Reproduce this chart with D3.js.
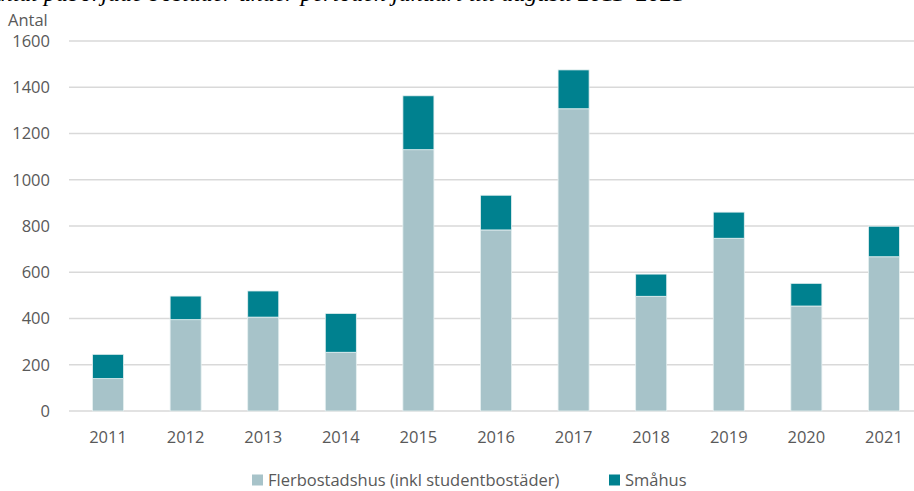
<!DOCTYPE html>
<html>
<head>
<meta charset="utf-8">
<script src="https://cdn.jsdelivr.net/npm/d3@7"></script>
<style>
  body { margin: 0; background: #fff; }
  svg { display: block; }
</style>
</head>
<body>
<div id="vis"></div>
<script>
const years = ["2011", "2012", "2013", "2014", "2015", "2016", "2017", "2018", "2019", "2020", "2021"];
const flerbostadshus = [140, 395, 406, 254, 1130, 783, 1307, 496, 747, 454, 667];
const smahus = [105, 102, 113, 168, 233, 150, 168, 96, 113, 98, 132];
const yTicks = [0, 200, 400, 600, 800, 1000, 1200, 1400, 1600];
const seriesNames = ["Flerbostadshus (inkl studentbostäder)", "Småhus"];
const colors = ["#A7C3C9", "#00818F"];

const WIDTH = 914;
const HEIGHT = 491;

const SVG = d3.select("#vis").append("svg")
    .attr("width", WIDTH).attr("height", HEIGHT);

const font = "'Open Sans', sans-serif";
const fs = 16.5;

// titel, avklippt i överkant
SVG.append("text")
    .attr("x", -14).attr("y", 1)
    .attr("font-family", "'Liberation Serif', serif")
    .attr("font-style", "italic")
    .attr("font-size", 24)
    .attr("fill", "#000")
    .text("Antal påbörjade bostäder under perioden januari till augusti 2011–2021");

const data = years.map((y, i) => ({ year: y, fler: flerbostadshus[i], sma: smahus[i] }));
const stack = d3.stack().keys(["fler", "sma"])(data);

const x = d3.scaleBand()
    .domain(years)
    .range([69.25, 922.75])
    .paddingInner(0.6)
    .paddingOuter(0.3);

const y = d3.scaleLinear()
    .domain([0, 1600])
    .range([411, 41]);

// rutnät
SVG.append("g")
    .selectAll("line")
    .data(yTicks)
    .join("line")
    .attr("x1", 69).attr("x2", WIDTH)
    .attr("y1", d => y(d)).attr("y2", d => y(d))
    .attr("stroke", "#D9D9D9")
    .attr("stroke-width", 1.3);

// y-etiketter
SVG.append("g")
    .selectAll("text")
    .data(yTicks)
    .join("text")
    .attr("x", 50)
    .attr("y", d => y(d))
    .attr("dy", "0.35em")
    .attr("text-anchor", "end")
    .attr("font-family", font)
    .attr("font-size", fs)
    .attr("fill", "#595959")
    .text(d => d);

SVG.append("text")
    .attr("x", 8).attr("y", 26)
    .attr("font-family", font)
    .attr("font-size", fs)
    .attr("fill", "#595959")
    .text("Antal");

// staplar
SVG.append("g")
    .selectAll("g")
    .data(stack)
    .join("g")
    .attr("fill", (d, i) => colors[i])
    .selectAll("rect")
    .data(d => d)
    .join("rect")
    .attr("x", d => x(d.data.year))
    .attr("width", x.bandwidth())
    .attr("y", d => y(d[1]))
    .attr("height", d => y(d[0]) - y(d[1]))
    .attr("stroke", "#E6F0F1")
    .attr("stroke-width", 0.8);

// x-etiketter
SVG.append("g")
    .selectAll("text")
    .data(years)
    .join("text")
    .attr("x", d => x(d) + x.bandwidth() / 2)
    .attr("y", 443)
    .attr("text-anchor", "middle")
    .attr("font-family", font)
    .attr("font-size", fs)
    .attr("fill", "#595959")
    .text(d => d);

// förklaring
const legendX = [252, 609];
const legend = SVG.append("g")
    .selectAll("g")
    .data(seriesNames)
    .join("g")
    .attr("transform", (d, i) => `translate(${legendX[i]}, 480)`);

legend.append("rect")
    .attr("x", 0).attr("y", -5.5)
    .attr("width", 11).attr("height", 11)
    .attr("fill", (d, i) => colors[i]);

legend.append("text")
    .attr("x", 16).attr("y", 0)
    .attr("dy", "0.35em")
    .attr("font-family", font)
    .attr("font-size", fs)
    .attr("fill", "#595959")
    .text(d => d);
</script>
</body>
</html>
